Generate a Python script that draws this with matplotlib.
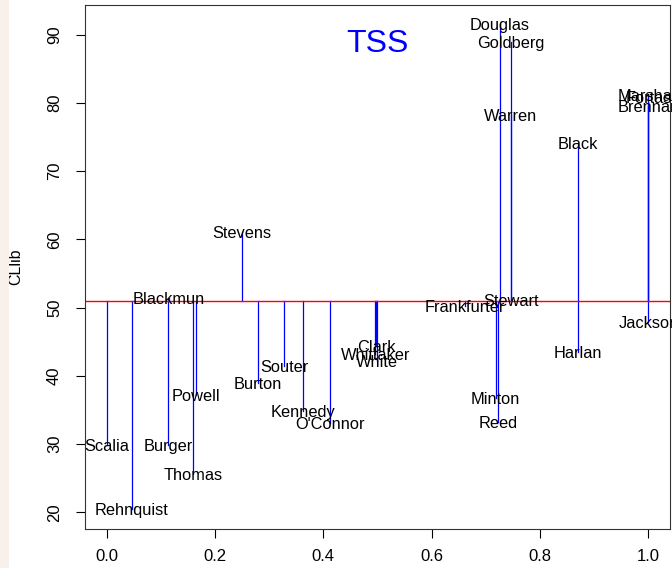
import matplotlib.pyplot as plt
from matplotlib.patches import Rectangle

plt.rcParams["font.family"] = ["Liberation Sans", "DejaVu Sans"]

# justices: policy score (x) and CLlib (y)
justices = ["Scalia", "Rehnquist", "Burger", "Blackmun", "Thomas", "Powell",
            "Stevens", "Burton", "Souter", "Kennedy", "O'Connor", "Clark",
            "Whittaker", "White", "Frankfurter", "Minton", "Reed", "Douglas",
            "Stewart", "Goldberg", "Warren", "Black", "Harlan", "Marshall",
            "Fortas", "Brennan", "Jackson"]
score = [0.000, 0.046, 0.114, 0.115, 0.160, 0.165,
         0.250, 0.279, 0.328, 0.363, 0.413, 0.497,
         0.496, 0.499, 0.661, 0.718, 0.723, 0.726,
         0.746, 0.746, 0.746, 0.870, 0.870, 1.000,
         1.000, 1.000, 1.000]
cllib = [29.8, 20.5, 29.8, 51.4, 25.6, 37.2,
         61.1, 39.0, 41.5, 34.8, 33.1, 44.4,
         43.2, 42.2, 50.3, 36.7, 33.2, 91.5,
         51.1, 89.0, 78.2, 74.1, 43.5, 81.2,
         80.8, 79.6, 47.9]
clib_mean = 51.0

fig = plt.figure(figsize=(6.72, 5.68), dpi=100)
fig.patches.append(Rectangle((0, 0), 9 / 672, 1, transform=fig.transFigure,
                             facecolor="#f8f0ea", edgecolor="none"))
ax = fig.add_axes([85 / 672, 39 / 568, 585 / 672, 524 / 568])

for name, x, y in zip(justices, score, cllib):
    ax.plot([x, x], [clib_mean, y], color="blue", lw=0.9)
    ax.text(x, y, name, ha="center", va="center_baseline", fontsize=11.8)

ax.axhline(clib_mean, color="red", lw=1)
ax.text(0.5, 89.2, "TSS", color="blue", fontsize=23, ha="center", va="center_baseline")

ax.set_xlim(-0.04, 1.04)
ax.set_ylim(17.55, 94.35)
ax.set_xticks([0.0, 0.2, 0.4, 0.6, 0.8, 1.0])
ax.set_xticklabels(["0.0", "0.2", "0.4", "0.6", "0.8", "1.0"])
ax.set_yticks(range(20, 100, 10))
for lab in ax.get_yticklabels():
    lab.set_rotation(90)
    lab.set_va("center")
ax.tick_params(axis="both", direction="out", length=6.5, width=0.8, labelsize=12)
ax.tick_params(axis="x", pad=8)
ax.tick_params(axis="y", pad=10)
for sp in ax.spines.values():
    sp.set_linewidth(0.8)
    sp.set_color("#333333")
ax.set_ylabel("CLlib", fontsize=11.5, labelpad=17)

fig.savefig("out.png", dpi=100)
